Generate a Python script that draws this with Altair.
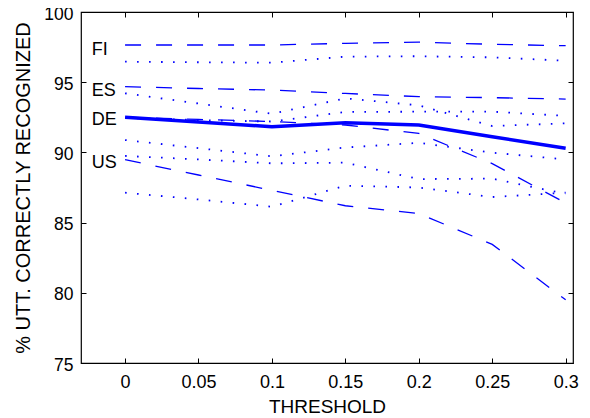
import altair as alt
import pandas as pd

thresholds = [0, 0.05, 0.1, 0.15, 0.2, 0.25, 0.3]

# dashed curves
fi_dashed = [97.65, 97.65, 97.65, 97.77, 97.85, 97.70, 97.60]
es_dashed = [94.68, 94.55, 94.44, 94.20, 93.97, 93.90, 93.80]
de_dashed = [92.50, 92.35, 92.20, 91.95, 91.35, 89.20, 86.40]
us_dashed = [89.48, 88.39, 87.30, 86.20, 85.65, 83.45, 79.50]

# dotted curves
fi_dotted = [96.46, 96.42, 96.39, 96.82, 96.85, 96.77, 96.53]
es_dotted = [94.21, 93.48, 92.75, 93.85, 93.35, 91.88, 92.07]
de_dotted = [92.45, 92.30, 92.20, 92.88, 92.90, 92.90, 92.60]
us_dotted_a = [90.88, 90.30, 89.72, 90.35, 90.68, 89.98, 89.50]
us_dotted_b = [89.75, 89.50, 89.22, 89.27, 88.10, 88.13, 87.05]
us_dotted_c = [87.13, 86.65, 86.13, 87.63, 87.50, 86.82, 87.13]

# solid average
avg_solid = [92.50, 92.17, 91.83, 92.12, 91.95, 91.12, 90.29]

label_names = ["FI", "ES", "DE", "US"]
label_y = [97.3, 94.37, 92.31, 89.27]
label_x = [-0.0227, -0.0227, -0.0227, -0.0227]

x_ticks = [0, 0.05, 0.1, 0.15, 0.2, 0.25, 0.3]
y_ticks = [75, 80, 85, 90, 95, 100]

series = [
    ("fi_dashed", "dashed", fi_dashed),
    ("es_dashed", "dashed", es_dashed),
    ("de_dashed", "dashed", de_dashed),
    ("us_dashed", "dashed", us_dashed),
    ("fi_dotted", "dotted", fi_dotted),
    ("es_dotted", "dotted", es_dotted),
    ("de_dotted", "dotted", de_dotted),
    ("us_dotted_a", "dotted", us_dotted_a),
    ("us_dotted_b", "dotted", us_dotted_b),
    ("us_dotted_c", "dotted", us_dotted_c),
    ("avg", "solid", avg_solid),
]
rows = []
for name, style, vals in series:
    for i, (t, v) in enumerate(zip(thresholds, vals)):
        rows.append({"name": name, "style": style, "t": t, "v": v, "i": i})
df = pd.DataFrame(rows)
labels_df = pd.DataFrame({"lab": label_names, "x": label_x, "y": label_y})

FONT = "Liberation Sans"
BLUE = "#0000ff"

xscale = alt.Scale(domain=[-0.03, 0.305], nice=False, zero=False)
yscale = alt.Scale(domain=[75, 100], nice=False, zero=False)

ax_common = dict(domain=False, grid=False, tickSize=5, tickColor="black",
                 tickWidth=1, offset=-5, labelFont=FONT,
                 labelColor="black", titleFont=FONT,
                 titleFontWeight="normal", titleColor="black")

x_bottom = alt.Axis(orient="bottom", values=x_ticks, format="~g", title="THRESHOLD",
                    labelFontSize=18, labelPadding=10, titlePadding=6,
                    titleFontSize=19, **ax_common)
y_left = alt.Axis(orient="left", values=y_ticks, title="% UTT.  CORRECTLY  RECOGNIZED",
                  labelFontSize=17.5, labelOffset=2, labelPadding=8, titlePadding=10,
                  titleFontSize=20, **ax_common)
x_top = alt.Axis(orient="top", values=x_ticks, labels=False, title=None, **ax_common)
y_right = alt.Axis(orient="right", values=y_ticks, labels=False, title=None, **ax_common)

dashed = alt.Chart(df).transform_filter(alt.datum.style == "dashed").mark_line(
    color=BLUE, strokeWidth=1.3, strokeDash=[16, 15]
).encode(
    x=alt.X("t:Q", scale=xscale, axis=x_bottom),
    y=alt.Y("v:Q", scale=yscale, axis=y_left),
    detail="name:N", order="i:Q",
)

dotted = alt.Chart(df).transform_filter(alt.datum.style == "dotted").mark_line(
    color=BLUE, strokeWidth=1.8, strokeDash=[1.6, 10.4]
).encode(
    x=alt.X("t:Q", scale=xscale, axis=x_top),
    y=alt.Y("v:Q", scale=yscale, axis=y_right),
    detail="name:N", order="i:Q",
)

solid = alt.Chart(df).transform_filter(alt.datum.style == "solid").mark_line(
    color=BLUE, strokeWidth=3.5
).encode(
    x=alt.X("t:Q", scale=xscale, axis=None),
    y=alt.Y("v:Q", scale=yscale, axis=None),
    detail="name:N", order="i:Q",
)

text = alt.Chart(labels_df).mark_text(
    align="left", baseline="middle", font=FONT, fontSize=18, color="black"
).encode(
    x=alt.X("x:Q", scale=xscale, axis=None),
    y=alt.Y("y:Q", scale=yscale, axis=None),
    text="lab:N",
)

chart = alt.layer(dashed, dotted, solid, text).resolve_axis(
    x="independent", y="independent"
).properties(
    width=492, height=351,
    autosize=alt.AutoSizeParams(type="none"),
    padding={"left": 73, "top": 4, "right": 9, "bottom": 52},
    background="white",
).configure_view(stroke="black", strokeWidth=1.2)

chart.save("out.html", embed_options={"renderer": "svg", "actions": False})
